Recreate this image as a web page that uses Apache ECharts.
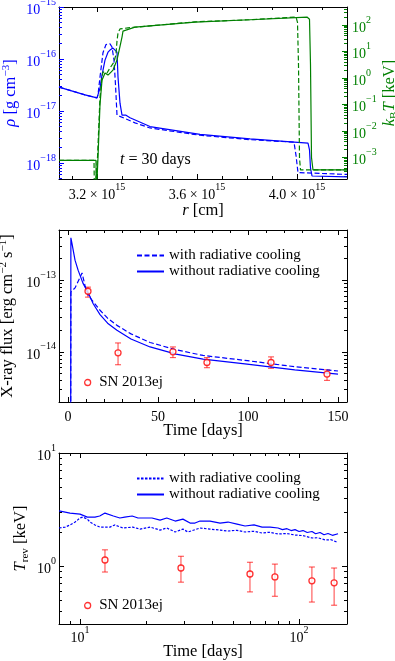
<!DOCTYPE html>
<html>
<head>
<meta charset="utf-8">
<script src="https://cdn.jsdelivr.net/npm/echarts@6/dist/echarts.min.js"></script>
<style>
html, body { margin: 0; padding: 0; background: #fff; }
#chart { width: 395px; height: 661px; }
</style>
</head>
<body>
<div id="chart"></div>
<script>
// ---- panel 1: profiles at t = 30 days (r in units of 1e15 cm) ----
const rhoHotR = [3.048, 3.152, 3.200, 3.204, 3.212, 3.220, 3.232, 3.244, 3.252, 3.264, 3.272, 3.280, 3.284, 3.292, 3.300, 3.304, 3.316, 3.332, 3.412, 3.612, 3.812, 4.044, 4.050, 4.054, 4.060, 4.200];
const rhoHot = [2.88e-17, 2.04e-17, 1.78e-17, 1.86e-17, 2.75e-17, 4.9e-17, 9.5e-17, 1.35e-16, 1.48e-16, 1.62e-16, 1.58e-16, 1.35e-16, 4.5e-17, 1.41e-17, 8.3e-18, 7.9e-18, 8.3e-18, 7.4e-18, 5.0e-18, 3.55e-18, 2.9e-18, 2.4e-18, 1.78e-18, 7.9e-19, 5.6e-19, 5.4e-19];
const rhoCoolR = [3.048, 3.152, 3.200, 3.204, 3.212, 3.224, 3.236, 3.244, 3.252, 3.260, 3.268, 3.274, 3.280, 3.288, 3.352, 3.412, 3.612, 3.812, 3.988, 3.996, 4.004, 4.200];
const rhoCool = [2.88e-17, 2.04e-17, 1.78e-17, 2.04e-17, 4.5e-17, 1.32e-16, 1.9e-16, 2.04e-16, 1.95e-16, 1.7e-16, 9.5e-17, 3.2e-17, 8.3e-18, 7.6e-18, 5.9e-18, 4.7e-18, 3.4e-18, 2.8e-18, 2.5e-18, 1.4e-18, 6.5e-19, 6.0e-19];
const tempHotR = [3.048, 3.196, 3.197, 3.201, 3.204, 3.212, 3.220, 3.232, 3.244, 3.264, 3.280, 3.292, 3.300, 3.304, 3.352, 3.592, 3.812, 4.040, 4.050, 4.054, 4.058, 4.064, 4.200];
const tempHot = [7.8e-4, 7.8e-4, 3e-5, 3e-5, 1e-3, 0.1, 0.83, 1.55, 1.29, 2.0, 4.8, 15.8, 35, 59, 83, 128, 158, 200, 166, 3.2, 1e-3, 3.4e-4, 3.4e-4];
const tempCoolR = [3.048, 3.188, 3.190, 3.196, 3.202, 3.212, 3.220, 3.224, 3.240, 3.252, 3.268, 3.276, 3.280, 3.284, 3.292, 3.324, 3.592, 3.812, 3.996, 4.002, 4.006, 4.010, 4.014, 4.200];
const tempCool = [7.8e-4, 7.8e-4, 3e-5, 3e-5, 1e-3, 0.19, 1.1, 1.7, 1.55, 2.4, 4.0, 7.9, 25, 50, 71, 78, 132, 158, 200, 126, 3.2, 1e-3, 3.4e-4, 3.4e-4];

// ---- panel 2: X-ray flux ----
const fluxHotDays = [1.5, 1.6, 2.2, 3.9, 5.6, 8.3, 11.1, 14, 17.8, 22, 27.2, 35, 45.6, 60, 75, 98.3, 126, 150];
const fluxHot = [1e-15, 3.9e-13, 3.27e-13, 1.9e-13, 1.38e-13, 9.1e-14, 6.76e-14, 4.68e-14, 3.31e-14, 2.51e-14, 2.0e-14, 1.51e-14, 1.17e-14, 9.3e-15, 7.9e-15, 6.8e-15, 5.6e-15, 4.9e-15];
const fluxCoolDays = [1.5, 1.6, 3.9, 6.7, 7.8, 9.4, 11.1, 14, 17.8, 22, 27.2, 35, 45.6, 60, 75, 98.3, 126, 150];
const fluxCool = [1e-15, 6.8e-14, 7.8e-14, 1.1e-13, 1.26e-13, 8.5e-14, 6.2e-14, 5.0e-14, 3.8e-14, 2.95e-14, 2.34e-14, 1.78e-14, 1.35e-14, 1.07e-14, 8.9e-15, 7.6e-15, 6.2e-15, 5.4e-15];
const obsFluxDays = [11.1, 27.8, 58.3, 77.2, 112.8, 143.9];
const obsFlux = [7.0e-14, 9.7e-15, 1.0e-14, 7.1e-15, 7.1e-15, 4.9e-15];
const obsFluxLo = [5.8e-14, 6.6e-15, 8.3e-15, 6.0e-15, 5.9e-15, 4.0e-15];
const obsFluxHi = [8.0e-14, 1.33e-14, 1.17e-14, 8.3e-15, 8.5e-15, 5.6e-15];

// ---- panel 3: reverse shock temperature ----
const tHotDays = [8.02, 8.55, 9.0, 10.0, 10.8, 11.7, 12.3, 13.0, 14.2, 15.2, 16.0, 17.3, 18.4, 19.8, 21.3, 23.2, 24.9, 27.2, 29.5, 31.8, 33.5, 35.3, 39.2, 43.6, 47.4, 52.1, 56.7, 62.3, 67.8, 73.8, 80.2, 84, 88.1, 92, 95.9, 100, 104.3, 109, 114.6, 119, 124.7, 130, 135.6, 142, 150.7];
const tHot = [3.07, 3.00, 2.94, 2.88, 2.71, 2.71, 2.77, 2.94, 2.77, 2.66, 2.71, 2.77, 2.66, 2.66, 2.66, 2.55, 2.66, 2.50, 2.60, 2.40, 2.40, 2.50, 2.50, 2.40, 2.45, 2.35, 2.26, 2.31, 2.21, 2.21, 2.17, 2.10, 2.14, 2.06, 2.10, 2.02, 2.06, 1.98, 2.02, 1.93, 1.98, 1.89, 1.94, 1.87, 1.93];
const tCoolDays = [8.02, 8.55, 9.0, 9.5, 10.0, 10.3, 10.8, 11.1, 11.7, 12.3, 13.7, 14.4, 15.7, 17.4, 18.8, 20.9, 23.2, 24.9, 27.2, 29.5, 31.1, 35.3, 39.2, 43.6, 47.4, 52, 56.7, 62, 67.8, 73, 80.2, 88, 95.9, 104, 114.6, 122, 131.6, 140, 148.9];
const tCool = [2.17, 2.21, 2.31, 2.45, 2.66, 2.71, 2.60, 2.45, 2.31, 2.21, 2.21, 2.31, 2.17, 2.21, 2.12, 2.21, 2.08, 2.17, 2.00, 2.12, 2.00, 2.17, 2.12, 2.08, 2.04, 2.07, 2.00, 2.03, 1.96, 1.99, 1.92, 1.94, 1.88, 1.86, 1.77, 1.78, 1.70, 1.71, 1.63];
const obsTempDays = [13.0, 28.9, 59.7, 77.6, 114.5, 144.6];
const obsTemp = [1.13, 0.96, 0.85, 0.80, 0.74, 0.71];
const obsTempLo = [0.885, 0.72, 0.59, 0.54, 0.48, 0.45];
const obsTempHi = [1.39, 1.22, 1.08, 1.04, 0.98, 0.96];

const legendText = {
  fluxCool: 'with radiative cooling', fluxHot: 'without radiative cooling',
  tCool: 'with radiative cooling', tHot: 'without radiative cooling',
  'SN 2013ej': 'SN 2013ej'
};

const FONT = 'Liberation Serif';
const BLUE = '#0000ff', GREEN = '#008000', RED = '#ff0000';
const lg = Math.log10;

// tick label styles with superscripts
const labelRich = (color) => ({
  b: { fontFamily: FONT, fontSize: 14, lineHeight: 20, verticalAlign: 'bottom', color },
  s: { fontFamily: FONT, fontSize: 10, lineHeight: 11, verticalAlign: 'top', color }
});
const nameRich = (color) => ({
  t: { fontFamily: FONT, fontSize: 16.5, lineHeight: 20, color },
  i: { fontFamily: FONT, fontSize: 16.5, lineHeight: 20, fontStyle: 'italic', color },
  s: { fontFamily: FONT, fontSize: 11, lineHeight: 11, verticalAlign: 'top', color },
  sub: { fontFamily: FONT, fontSize: 11, lineHeight: 11, verticalAlign: 'bottom', color }
});
const powLabel = (v) => '{b|10}{s|' + String(Math.round(v)).replace('-', '−') + '}';

const ints = (a, b) => { const o = []; for (let i = a; i <= b; i++) o.push(i); return o; };
const logMinor = (min, max) => {
  const o = [];
  for (let e = Math.floor(min); e <= Math.ceil(max); e++)
    for (let k = 2; k <= 9; k++) { const v = e + lg(k); if (v >= min && v <= max) o.push(v); }
  return o;
};

const xAxes = [], yAxes = [];
// one side of a frame: major axis (line, ticks, labels) + minor tick axis
function side(list, o) {
  const base = { type: 'value', gridIndex: o.grid, position: o.pos, min: o.min, max: o.max, splitLine: { show: false } };
  const vertical = o.pos === 'left' || o.pos === 'right';
  list.push(Object.assign({}, base, {
    axisLine: { show: true, onZero: false, lineStyle: { color: '#000', width: 1 } },
    axisTick: { show: true, inside: true, length: 5, customValues: o.major, lineStyle: { color: o.tick || '#000' } },
    axisLabel: o.fmt ? { show: true, customValues: o.major, formatter: o.fmt, margin: o.margin || 4, rich: labelRich(o.color || '#000') } : { show: false },
    name: o.name || '',
    nameLocation: 'middle',
    nameGap: o.gap || 20,
    nameMoveOverlap: false,
    nameRotate: vertical ? 90 : 0,
    nameTextStyle: { rich: nameRich(o.color || '#000') }
  }));
  const idx = list.length - 1;
  list.push(Object.assign({}, base, {
    axisLine: { show: false, onZero: false },
    axisTick: { show: true, inside: true, length: 3, customValues: o.minor, lineStyle: { color: o.tick || '#000' } },
    axisLabel: { show: false }
  }));
  return idx;
}

// panel 1 axes
const R_MIN = 3.048, R_MAX = 4.2, RHO_MIN = -18.31, RHO_MAX = -15, T_MIN = -3.81, T_MAX = 2.68;
const rMajor = [3.2, 3.6, 4.0], rMinor = [3.1, 3.3, 3.4, 3.5, 3.7, 3.8, 3.9, 4.1];
const x0 = side(xAxes, { grid: 0, pos: 'bottom', min: R_MIN, max: R_MAX, major: rMajor, minor: rMinor,
  fmt: (v) => '{b|' + v.toFixed(1) + ' × 10}{s|15}', margin: 3, name: '{i|r}{t| [cm]}', gap: 22 });
side(xAxes, { grid: 0, pos: 'top', min: R_MIN, max: R_MAX, major: rMajor, minor: rMinor });
const y0 = side(yAxes, { grid: 0, pos: 'left', min: RHO_MIN, max: RHO_MAX, major: ints(-18, -15), minor: logMinor(RHO_MIN, RHO_MAX),
  fmt: powLabel, color: BLUE, tick: BLUE, margin: 3, name: '{i|ρ}{t| [g cm}{s|−3}{t|]}', gap: 38 });
const y0r = side(yAxes, { grid: 0, pos: 'right', min: T_MIN, max: T_MAX, major: ints(-3, 2), minor: logMinor(T_MIN, T_MAX),
  fmt: powLabel, color: GREEN, tick: GREEN, margin: 5, name: '{i|k}{sub|B}{i|T}{t| [keV]}', gap: 33 });

// panel 2 axes
const D_MIN = -5, D_MAX = 155, F_MIN = -14.7, F_MAX = -12.3;
const dMajor = [0, 50, 100, 150], dMinor = [10, 20, 30, 40, 60, 70, 80, 90, 110, 120, 130, 140];
const x1 = side(xAxes, { grid: 1, pos: 'bottom', min: D_MIN, max: D_MAX, major: dMajor, minor: dMinor,
  fmt: (v) => '{b|' + v + '}', margin: 2, name: '{t|Time [days]}', gap: 19 });
side(xAxes, { grid: 1, pos: 'top', min: D_MIN, max: D_MAX, major: dMajor, minor: dMinor });
const y1 = side(yAxes, { grid: 1, pos: 'left', min: F_MIN, max: F_MAX, major: [-14, -13], minor: logMinor(F_MIN, F_MAX),
  fmt: powLabel, margin: 3, name: '{t|X-ray flux [erg cm}{s|−2}{t| s}{s|−1}{t|]}', gap: 41 });
side(yAxes, { grid: 1, pos: 'right', min: F_MIN, max: F_MAX, major: [-14, -13], minor: logMinor(F_MIN, F_MAX) });

// panel 3 axes
const L_MIN = 0.904, L_MAX = 2.219, TR_MIN = -0.513, TR_MAX = 1;
const x2 = side(xAxes, { grid: 2, pos: 'bottom', min: L_MIN, max: L_MAX, major: [1, 2], minor: logMinor(L_MIN, L_MAX),
  fmt: powLabel, margin: 1, name: '{t|Time [days]}', gap: 18 });
side(xAxes, { grid: 2, pos: 'top', min: L_MIN, max: L_MAX, major: [1, 2], minor: logMinor(L_MIN, L_MAX) });
const y2 = side(yAxes, { grid: 2, pos: 'left', min: TR_MIN, max: TR_MAX, major: [0, 1], minor: logMinor(TR_MIN, TR_MAX),
  fmt: powLabel, margin: 3, name: '{i|T}{sub|rev}{t| [keV]}', gap: 28 });
side(yAxes, { grid: 2, pos: 'right', min: TR_MIN, max: TR_MAX, major: [0, 1], minor: logMinor(TR_MIN, TR_MAX) });

const pairs = (xs, ys, xlog) => xs.map((x, i) => [xlog ? lg(x) : x, lg(ys[i])]);

function line(name, xs, ys, xi, yi, color, type, xlog) {
  return { name, type: 'line', xAxisIndex: xi, yAxisIndex: yi, data: pairs(xs, ys, xlog),
    symbol: 'none', clip: true, lineStyle: { color, width: 1.2, type }, itemStyle: { color } };
}
function errorBars(xs, lo, hi, xi, yi, xlog) {
  return {
    type: 'custom', xAxisIndex: xi, yAxisIndex: yi, z: 3,
    data: xs.map((x, i) => [xlog ? lg(x) : x, lg(lo[i]), lg(hi[i])]),
    encode: { x: 0, y: [1, 2] },
    renderItem: (params, api) => {
      const a = api.coord([api.value(0), api.value(1)]);
      const b = api.coord([api.value(0), api.value(2)]);
      const st = { stroke: 'rgba(255,0,0,0.75)', lineWidth: 1 };
      return { type: 'group', children: [
        { type: 'line', shape: { x1: a[0], y1: a[1], x2: b[0], y2: b[1] }, style: st },
        { type: 'line', shape: { x1: a[0] - 3, y1: a[1], x2: a[0] + 3, y2: a[1] }, style: st },
        { type: 'line', shape: { x1: b[0] - 3, y1: b[1], x2: b[0] + 3, y2: b[1] }, style: st }
      ] };
    }
  };
}
function points(xs, ys, xi, yi, xlog) {
  return { name: 'SN 2013ej', type: 'scatter', xAxisIndex: xi, yAxisIndex: yi, z: 4,
    data: pairs(xs, ys, xlog), symbol: 'circle', symbolSize: 6,
    itemStyle: { color: '#fff', borderColor: RED, borderWidth: 1.3 } };
}

const DASH = [5, 2.5], DOT = [2.5, 1.5];
const legendBase = { orient: 'vertical', padding: 0, itemWidth: 27, itemHeight: 10, itemGap: 1, selectedMode: false,
  itemStyle: { opacity: 0 },
  formatter: (n) => legendText[n], textStyle: { fontFamily: FONT, fontSize: 15, lineHeight: 12, color: '#000' } };
const snLegend = { orient: 'vertical', padding: 0, itemWidth: 13, itemHeight: 6, selectedMode: false,
  formatter: (n) => legendText[n], textStyle: { fontFamily: FONT, fontSize: 15, lineHeight: 14, color: '#000' },
  data: [{ name: 'SN 2013ej', icon: 'circle', itemStyle: { color: '#fff', borderColor: RED, borderWidth: 1.3 } }] };

const option = {
  animation: false,
  backgroundColor: '#fff',
  grid: [
    { left: 59, top: 7, width: 288, height: 172, containLabel: false, outerBoundsMode: 'none' },
    { left: 59, top: 230, width: 288, height: 172, containLabel: false, outerBoundsMode: 'none' },
    { left: 59, top: 453, width: 288, height: 171, containLabel: false, outerBoundsMode: 'none' }
  ],
  title: {
    text: '{i|t}{t| = 30 days}', left: 120, top: 152, padding: 0,
    textStyle: { fontWeight: 'normal', rich: {
      i: { fontFamily: FONT, fontSize: 16, fontStyle: 'italic', fontWeight: 'normal', color: '#000' },
      t: { fontFamily: FONT, fontSize: 16, fontWeight: 'normal', color: '#000' } } }
  },
  legend: [
    Object.assign({}, legendBase, { left: 136, top: 248, data: ['fluxCool', 'fluxHot'] }),
    Object.assign({}, legendBase, { left: 136, top: 471, data: ['tCool', 'tHot'] }),
    Object.assign({}, snLegend, { left: 84, top: 375 }),
    Object.assign({}, snLegend, { left: 84, top: 598 })
  ],
  xAxis: xAxes,
  yAxis: yAxes,
  series: [
    line('rhoCool', rhoCoolR, rhoCool, x0, y0, BLUE, DASH),
    line('rhoHot', rhoHotR, rhoHot, x0, y0, BLUE, 'solid'),
    line('tempCool', tempCoolR, tempCool, x0, y0r, GREEN, DASH),
    line('tempHot', tempHotR, tempHot, x0, y0r, GREEN, 'solid'),

    line('fluxCool', fluxCoolDays, fluxCool, x1, y1, BLUE, DASH),
    line('fluxHot', fluxHotDays, fluxHot, x1, y1, BLUE, 'solid'),
    errorBars(obsFluxDays, obsFluxLo, obsFluxHi, x1, y1),
    points(obsFluxDays, obsFlux, x1, y1),

    line('tCool', tCoolDays, tCool, x2, y2, BLUE, DOT, true),
    line('tHot', tHotDays, tHot, x2, y2, BLUE, 'solid', true),
    errorBars(obsTempDays, obsTempLo, obsTempHi, x2, y2, true),
    points(obsTempDays, obsTemp, x2, y2, true)
  ]
};

const chart = echarts.init(document.getElementById('chart'));
chart.setOption(option);
</script>
</body>
</html>
